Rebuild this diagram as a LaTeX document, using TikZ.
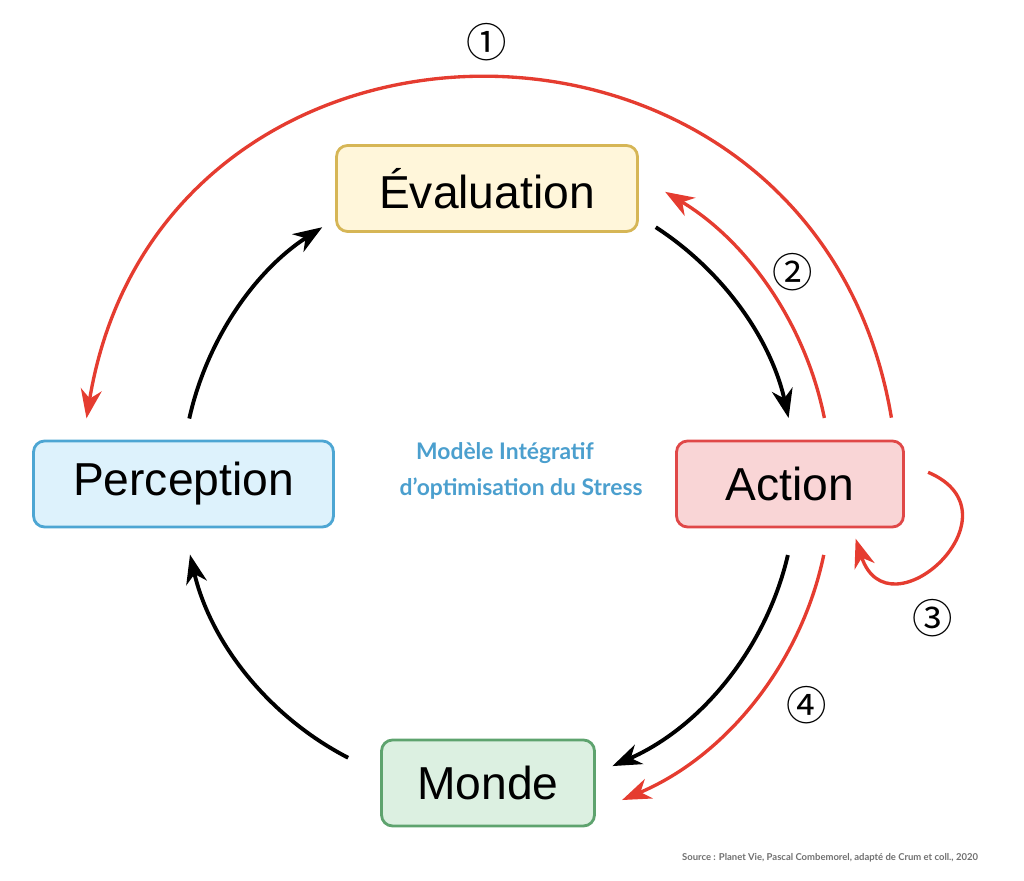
\documentclass[tikz,border=0pt]{standalone}
\usepackage{fontspec}
\setmainfont{Liberation Sans}
\newfontfamily\notefont{Lato}
\newfontfamily\circfont{Noto Sans CJK JP}
\usetikzlibrary{arrows.meta}

\definecolor{evalfill}{HTML}{FFF6DA}
\definecolor{evaldraw}{HTML}{D6B656}
\definecolor{percfill}{HTML}{DDF2FC}
\definecolor{percdraw}{HTML}{4DA6D3}
\definecolor{actfill}{HTML}{F9D5D6}
\definecolor{actdraw}{HTML}{E04848}
\definecolor{mondfill}{HTML}{DCF0E1}
\definecolor{monddraw}{HTML}{5EA36E}
\definecolor{loopred}{HTML}{E53C30}
\definecolor{noteblue}{HTML}{4B9FCE}
\definecolor{srcgray}{HTML}{707070}

\begin{document}
\begin{tikzpicture}[x=0.02cm,y=0.02cm]

      \useasboundingbox (0,0) rectangle (1024,881);

      \begin{scope}[every node/.style={draw,rounded corners=0.22cm,line width=1.6pt,minimum height=1.72cm,inner sep=0pt,font=\fontsize{26.3}{30}\selectfont}]
        \node[fill=evalfill,draw=evaldraw,minimum width=6.02cm] (eval)  at (487,692.5) {Évaluation};
        \node[fill=percfill,draw=percdraw,minimum width=6.0cm]  (perc)  at (183.5,397) {Perception};
        \node[fill=actfill,draw=actdraw,minimum width=4.54cm]   (act)   at (790,397)   {Action};
        \node[fill=mondfill,draw=monddraw,minimum width=4.26cm] (monde) at (488,98)    {Monde};
      \end{scope}

      \begin{scope}[every node/.style={text=noteblue,font=\notefont\bfseries\fontsize{13}{15}\selectfont}]
        \node (title1) at (505,428) {Modèle Intégratif};
        \node (title2) at (521,392) {d’optimisation du Stress};
      \end{scope}

      \node[text=srcgray,font=\notefont\bfseries\fontsize{5.4}{6}\selectfont] (src) at (830,23)
        {Source : Planet Vie, Pascal Combemorel, adapté de Crum et coll., 2020};

      \begin{scope}[every node/.style={font=\circfont\fontsize{23}{23}\selectfont}]
        \node (n1) at (487,839) {①};
        \node (n2) at (793,609) {②};
        \node (n3) at (933,263) {③};
        \node (n4) at (807,176) {④};
      \end{scope}

      % centres of the cycle and of the loop
      \coordinate (c) at (489,396);
      \coordinate (l) at (907,359);

      \coordinate (b1) at ([shift={(167.5:307)}]c);
      \coordinate (b2) at ([shift={(122.9:307)}]c);
      \coordinate (b3) at ([shift={(57.1:307)}]c);
      \coordinate (b4) at ([shift={(12.6:307)}]c);
      \coordinate (b5) at ([shift={(-13.2:307)}]c);
      \coordinate (b6) at ([shift={(-66.3:307)}]c);
      \coordinate (b7) at ([shift={(242.7:307)}]c);
      \coordinate (b8) at ([shift={(193.1:307)}]c);

      \coordinate (r1) at ([shift={(9.5:408)}]c);
      \coordinate (r2) at ([shift={(170.6:408)}]c);
      \coordinate (r3) at ([shift={(11.3:342)}]c);
      \coordinate (r4) at ([shift={(59:342)}]c);
      \coordinate (r5) at ([shift={(-11.8:342)}]c);
      \coordinate (r6) at ([shift={(-67.1:342)}]c);
      \coordinate (r7) at ([shift={(67:54)}]l);
      \coordinate (r8) at ([shift={(-162:54)}]l);

      \begin{scope}[every edge/.style={draw,line width=2.2pt,-{Stealth[length=0.58cm,width=0.42cm,inset=0.18cm]}}]
        \path (b1) edge[bend left=22.3,looseness=0.885] (b2);
        \path (b3) edge[bend left=22.2,looseness=0.885] (b4);
        \path (b5) edge[bend left=26.55,looseness=0.899] (b6);
        \path (b7) edge[bend left=24.8,looseness=0.893] (b8);
      \end{scope}

      \begin{scope}[every edge/.style={draw,loopred,line width=1.9pt,-{Stealth[length=0.58cm,width=0.42cm,inset=0.18cm]}}]
        \path (r1) edge[bend right=80.55,looseness=1.462] (r2);
        \path (r3) edge[bend right=23.85,looseness=0.889] (r4);
        \path (r5) edge[bend left=27.65,looseness=0.903] (r6);
        \path (r7) edge[bend left=114.5,looseness=2.75] (r8);
      \end{scope}

    \end{tikzpicture}
\end{document}
